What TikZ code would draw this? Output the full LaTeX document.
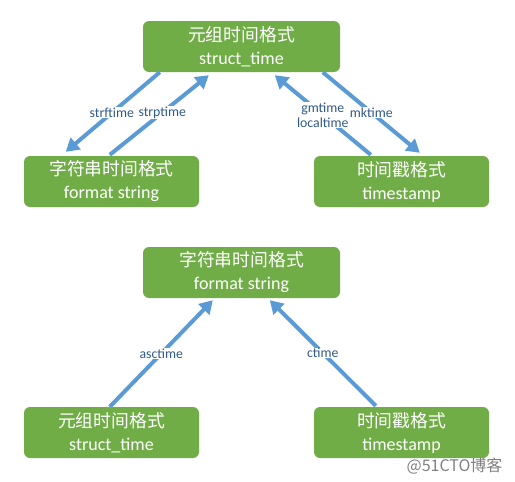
\documentclass[tikz,border=0pt]{standalone}
\usepackage{fontspec}
\setmainfont{Carlito}
\newfontfamily\cjk{Noto Sans CJK SC}
\usetikzlibrary{arrows.meta}
\definecolor{boxgreen}{RGB}{112,173,71}
\definecolor{arrowblue}{RGB}{91,155,213}
\definecolor{labelblue}{RGB}{49,90,140}
\tikzset{
  fmtbox/.style={fill=boxgreen, text=white, rounded corners=6pt, align=center,
    minimum height=51pt, inner sep=0pt, font=\fontsize{18}{23}\selectfont},
  conv/.style={arrowblue, line width=4pt,
    -{Triangle[width=15pt,length=13pt]}},
  convlabel/.style={fill=white, text=labelblue, inner sep=0.5pt, align=center,
    font=\fontsize{13.8}{15}\selectfont}
}
\newcommand{\tfmt}[2]{{\cjk\fontsize{17.8}{23}\selectfont #1}\\#2}
\begin{document}
\begin{tikzpicture}[x=1pt,y=-1pt]
  \useasboundingbox (0,0) rectangle (515,482);
  % conversions into and out of struct_time
  \node[fmtbox, minimum width=197pt] (st) at (241.5,46.5) {\tfmt{元组时间格式}{struct\_time}};
  \node[fmtbox, minimum width=175pt] (fs) at (111.5,181.5) {\tfmt{字符串时间格式}{format string}};
  \node[fmtbox, minimum width=175pt] (ts) at (401.5,181.5) {\tfmt{时间戳格式}{timestamp}};
  \draw[conv] ([xshift=17pt]st.south west) -- ([xshift=42pt,yshift=4pt]fs.north west)
    node[convlabel, pos=0.51] {strftime};
  \draw[conv] ([xshift=86pt,yshift=1pt]fs.north west) -- ([xshift=66pt,yshift=-3pt]st.south west)
    node[convlabel, pos=0.53] {strptime};
  \draw[conv] ([xshift=57pt,yshift=1pt]ts.north west) -- ([xshift=132pt,yshift=-3pt]st.south west)
    node[convlabel, midway] {gmtime\\localtime};
  \draw[conv] ([xshift=180pt]st.south west) -- ([xshift=106pt,yshift=3pt]ts.north west)
    node[convlabel, midway] {mktime};
  % conversions into format string
  \node[fmtbox, minimum width=197pt] (fs2) at (241.5,272.5) {\tfmt{字符串时间格式}{format string}};
  \node[fmtbox, minimum width=175pt] (st2) at (111.5,432.5) {\tfmt{元组时间格式}{struct\_time}};
  \node[fmtbox, minimum width=175pt] (ts2) at (401.5,432.5) {\tfmt{时间戳格式}{timestamp}};
  \draw[conv] ([xshift=86pt]st2.north west) -- ([xshift=70pt,yshift=-2pt]fs2.south west)
    node[convlabel, midway] {asctime};
  \draw[conv] ([xshift=62pt,yshift=1pt]ts2.north west) -- ([xshift=127pt,yshift=-2pt]fs2.south west)
    node[convlabel, midway] {ctime};
  \node[text=gray, font=\cjk\fontsize{16}{18}\selectfont, anchor=east] (mark) at (506,466) {@51CTO博客};
\end{tikzpicture}
\end{document}
